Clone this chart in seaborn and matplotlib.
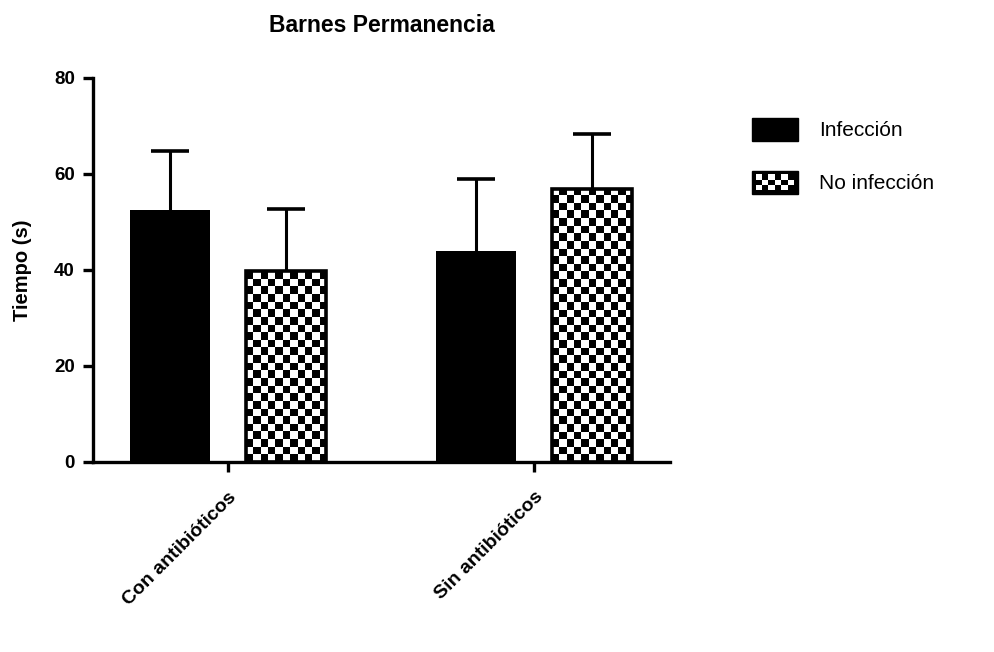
import numpy as np
import pandas as pd
import matplotlib
matplotlib.use("Agg")
import matplotlib.pyplot as plt
import seaborn as sns
from matplotlib.patches import Rectangle
from matplotlib.legend_handler import HandlerBase

# ---- data ----
groups = ["Con antibióticos", "Sin antibióticos"]
conditions = ["Infección", "No infección"]
means_infeccion = [52.5, 44.0]
means_no_infeccion = [39.8, 56.9]
sd_infeccion = [12.3, 15.0]
sd_no_infeccion = [12.9, 11.4]
yticks = [0, 20, 40, 60, 80]

df = pd.DataFrame({
    "grupo": groups * 2,
    "condicion": [conditions[0]] * 2 + [conditions[1]] * 2,
    "valor": means_infeccion + means_no_infeccion,
    "sd": sd_infeccion + sd_no_infeccion,
})

sns.set_theme(style="ticks")
plt.rcParams["font.family"] = ["Liberation Sans", "DejaVu Sans"]
for k in ["text.color", "axes.labelcolor", "xtick.color", "ytick.color", "axes.edgecolor"]:
    plt.rcParams[k] = "black"

fig = plt.figure(figsize=(9.95, 6.52), dpi=100)
ax = fig.add_axes([93 / 995, 1 - 462 / 652, (670 - 93) / 995, (462 - 78) / 652])

sns.barplot(data=df, x="grupo", y="valor", hue="condicion", order=groups,
            hue_order=conditions, palette=["black", "white"], width=0.76,
            gap=0.31, errorbar=None, legend=False, ax=ax, saturation=1)

ax.set_xlim(-0.441, 1.444)
ax.set_ylim(0, 80)

patches = [p for p in ax.patches if isinstance(p, Rectangle) and p.get_width() > 0]
patches = sorted(patches, key=lambda p: p.get_x())
fig.canvas.draw()

cell_px = 7.6
for p in patches:
    fc = p.get_facecolor()
    x0, y0, w, h = p.get_x(), p.get_y(), p.get_width(), p.get_height()
    if fc[0] > 0.5:  # checkered bar
        (px0, py0) = ax.transData.transform((x0, y0))
        (px1, py1) = ax.transData.transform((x0 + w, y0 + h))
        ncols = max(1, int(round((px1 - px0) / cell_px)))
        nrows = int(np.ceil((py1 - py0) / cell_px))
        ii, jj = np.indices((nrows, ncols))
        img = ((ii + jj) % 2).astype(float)
        dy = h / ((py1 - py0) / cell_px)
        im = ax.imshow(img, cmap="gray", vmin=0, vmax=1, interpolation="nearest",
                       extent=[x0, x0 + w, y0, y0 + nrows * dy], origin="lower",
                       aspect="auto", zorder=2)
        im.set_clip_path(p)
        p.set_facecolor("none")
        p.set_edgecolor("black")
        p.set_linewidth(2.6)
        p.set_zorder(3)
    else:
        p.set_linewidth(0)

ax.set_xlim(-0.441, 1.444)
ax.set_ylim(0, 80)

# error bars (upper only)
vals = {(g, c): (v, s) for g, c, v, s in zip(df.grupo, df.condicion, df.valor, df.sd)}
order_keys = [(groups[0], conditions[0]), (groups[0], conditions[1]),
              (groups[1], conditions[0]), (groups[1], conditions[1])]
for p, key in zip(patches, order_keys):
    v, s = vals[key]
    xc = p.get_x() + p.get_width() / 2
    _, caps, _ = ax.errorbar([xc], [v], yerr=[[0], [s]], fmt="none", ecolor="black",
                             elinewidth=2.2, capsize=14, capthick=2.6, zorder=4)
    # keep only the upper cap
    for c in caps:
        yd = c.get_ydata()
        if np.allclose(yd, v):
            c.remove()

sns.despine(ax=ax)
for sp in ["left", "bottom"]:
    ax.spines[sp].set_linewidth(2.4)
    ax.spines[sp].set_color("black")
ax.set_yticks(yticks)
ax.set_yticklabels([str(t) for t in yticks], fontsize=13.5, fontweight="bold")
ax.tick_params(axis="both", length=7, width=2.4, color="black", direction="out")
ax.tick_params(axis="y", pad=6)
ax.set_xticks([0, 1])
ax.set_xticklabels(groups, rotation=45, ha="right", rotation_mode="anchor",
                   fontsize=14, fontweight="bold")
ax.tick_params(axis="x", pad=12)
ax.set_xlabel("")
ax.set_ylabel("Tiempo (s)", fontsize=14.5, fontweight="bold", labelpad=16)
ax.set_title("Barnes Permanencia", fontsize=16.5, fontweight="bold", pad=33)


class SolidHandler(HandlerBase):
    def create_artists(self, legend, orig_handle, xdescent, ydescent, width, height, fontsize, trans):
        r = Rectangle((-xdescent, -ydescent), width, height, facecolor="black",
                      edgecolor="black", transform=trans)
        return [r]


class CheckerHandler(HandlerBase):
    def create_artists(self, legend, orig_handle, xdescent, ydescent, width, height, fontsize, trans):
        arts = [Rectangle((-xdescent, -ydescent), width, height, facecolor="black",
                          edgecolor="black", transform=trans)]
        ncols, nrows = 6, 3
        bw = width * 0.84
        bh = height * 0.7
        cx = -xdescent + (width - bw) / 2
        cy = -ydescent + (height - bh) / 2
        cw, ch = bw / ncols, bh / nrows
        for i in range(nrows):
            for j in range(ncols):
                if (i + j) % 2 == 0:
                    arts.append(Rectangle((cx + j * cw, cy + i * ch), cw, ch,
                                          facecolor="white", edgecolor="none",
                                          transform=trans))
        return arts


h1 = Rectangle((0, 0), 1, 1)
h2 = Rectangle((0, 0), 1, 1)
fig.legend([h1, h2], conditions, loc="upper left",
           bbox_to_anchor=(752 / 995, 1 - 118 / 652), frameon=False,
           fontsize=15, handlelength=2.2, handleheight=1.3, handletextpad=1.0,
           labelspacing=1.45, borderaxespad=0, borderpad=0,
           handler_map={h1: SolidHandler(), h2: CheckerHandler()})

fig.savefig("out.png", dpi=100)
